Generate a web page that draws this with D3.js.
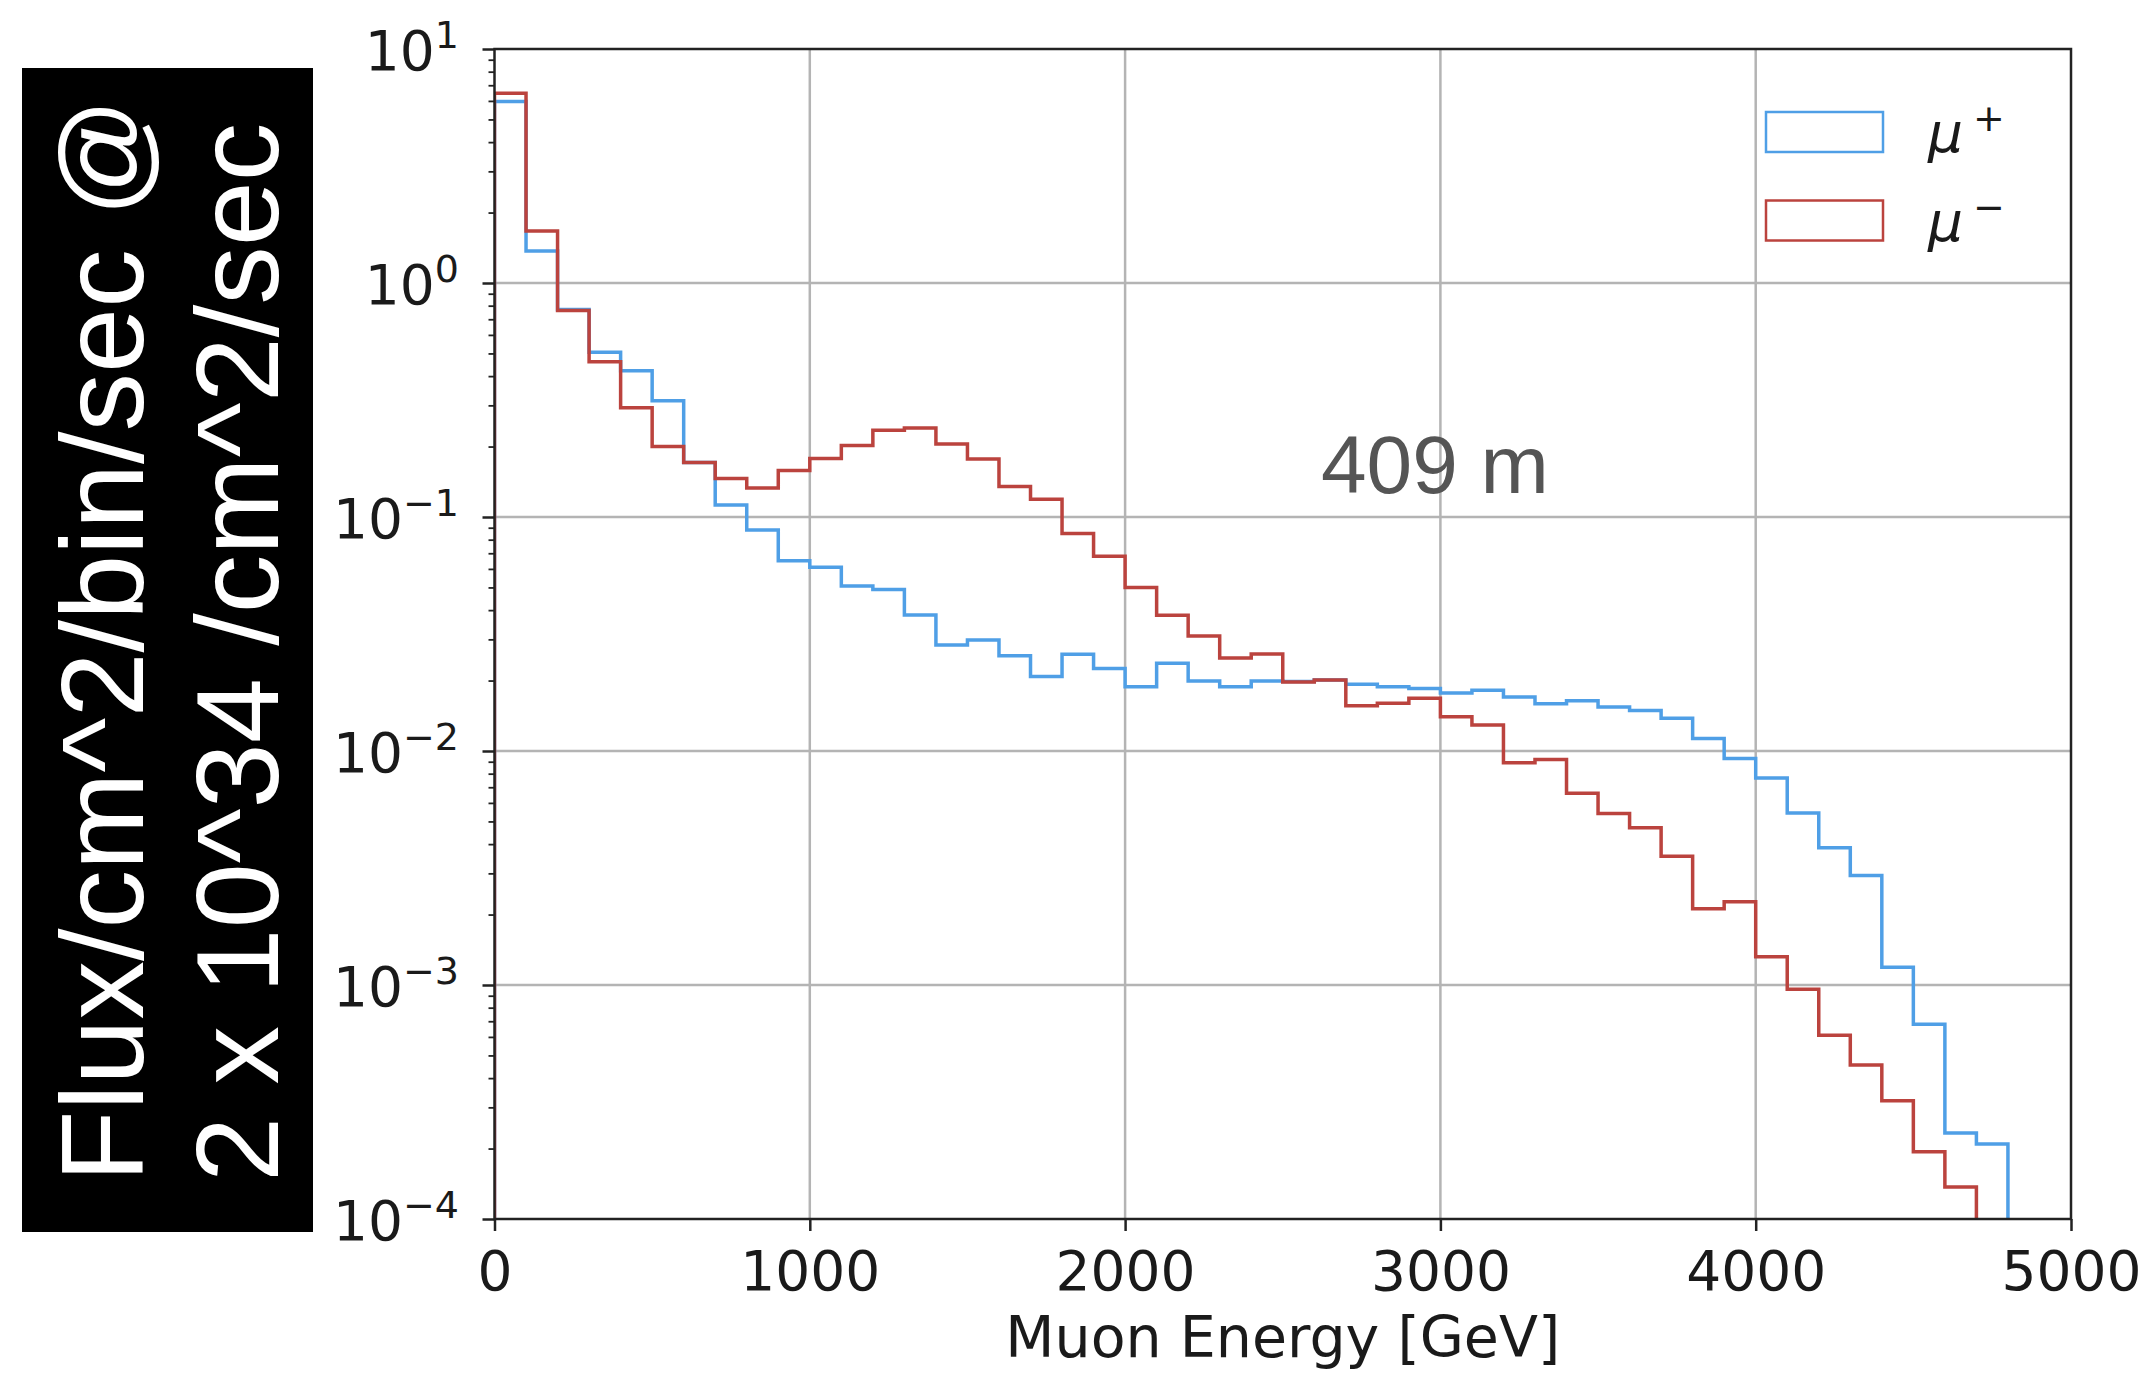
<!DOCTYPE html>
<html>
<head>
<meta charset="utf-8">
<script src="https://cdn.jsdelivr.net/npm/d3@7"></script>
<style>
  body { margin: 0; background: #fff; }
</style>
</head>
<body>
<div id="chart"></div>
<script>
// Bin edges: 100 GeV wide bins starting at 0
var binWidth = 100;

// mu+ flux per bin (0-4800 GeV)
var muPlus = [5.96, 1.37, 0.77, 0.506, 0.422, 0.314, 0.171, 0.1125, 0.088, 0.065,
    0.061, 0.0507, 0.049, 0.0381, 0.0284, 0.0298, 0.0255, 0.0208, 0.0259, 0.0225,
    0.0188, 0.0237, 0.0199, 0.0188, 0.0199, 0.0198, 0.0201, 0.0193, 0.0188, 0.0185,
    0.0177, 0.0182, 0.017, 0.0159, 0.0164, 0.0154, 0.0149, 0.0138, 0.0113, 0.0093,
    0.00767, 0.00543, 0.00386, 0.00294, 0.00119, 0.00068, 0.000233, 0.000209];

// mu- flux per bin (0-4700 GeV)
var muMinus = [6.47, 1.67, 0.762, 0.461, 0.293, 0.2, 0.171, 0.146, 0.133, 0.158,
    0.178, 0.202, 0.235, 0.24, 0.205, 0.177, 0.135, 0.119, 0.085, 0.068,
    0.05, 0.038, 0.031, 0.025, 0.026, 0.0197, 0.0201, 0.0156, 0.016, 0.0168,
    0.014, 0.0129, 0.0089, 0.0092, 0.0066, 0.0054, 0.0047, 0.00355, 0.00212, 0.00227,
    0.00132, 0.00096, 0.00061, 0.000455, 0.00032, 0.000194, 0.000137];

// Tick values
var xTicks = [0, 1000, 2000, 3000, 4000, 5000];
var yExponents = [1, 0, -1, -2, -3, -4];

// Legend entries
var legendLabels = [["\u03bc", "+"], ["\u03bc", "\u2212"]];

// Annotation and titles
var depthLabel = "409 m";
var xTitle = "Muon Energy [GeV]";
var yTitleLines = ["Flux/cm^2/bin/sec @", "2 x 10^34 /cm^2/sec"];

var blue = "#4f9fe6";
var red = "#bb433e";

// SVG dimensions
var svgWidth = 2150;
var svgHeight = 1378;

// Plot area
var plot = { left: 494.5, right: 2071, top: 49, bottom: 1219 };

var svg = d3.select("#chart")
    .append("svg")
    .attr("width", svgWidth)
    .attr("height", svgHeight)
    .style("display", "block");

// Scales
var xScale = d3.scaleLinear()
    .domain([0, 5000])
    .range([plot.left, plot.right]);

var yScale = d3.scaleLog()
    .domain([1e-4, 10])
    .range([plot.bottom, plot.top]);

// Black y title box
svg.append("rect")
    .attr("x", 22)
    .attr("y", 68)
    .attr("width", 291)
    .attr("height", 1164)
    .attr("fill", "#000");

var titleX = [143, 278];
yTitleLines.forEach(function(line, i) {
    svg.append("text")
        .attr("transform", `translate(${titleX[i]},1182) rotate(-90)`)
        .attr("font-family", "'Liberation Sans', Arial, sans-serif")
        .attr("font-size", 117)
        .attr("fill", "#fff")
        .text(line);
});

// Grid lines
var grid = svg.append("g");
grid.selectAll(".vgrid")
    .data(xTicks.slice(1, -1))
    .enter()
    .append("line")
    .attr("x1", d => xScale(d))
    .attr("x2", d => xScale(d))
    .attr("y1", plot.top)
    .attr("y2", plot.bottom)
    .attr("stroke", "#b4b4b4")
    .attr("stroke-width", 2.5);

grid.selectAll(".hgrid")
    .data(yExponents.slice(1, -1))
    .enter()
    .append("line")
    .attr("x1", plot.left)
    .attr("x2", plot.right)
    .attr("y1", d => yScale(Math.pow(10, d)))
    .attr("y2", d => yScale(Math.pow(10, d)))
    .attr("stroke", "#b4b4b4")
    .attr("stroke-width", 2.5);

// Clip path for histograms
svg.append("clipPath")
    .attr("id", "plotClip")
    .append("rect")
    .attr("x", plot.left)
    .attr("y", plot.top)
    .attr("width", plot.right - plot.left)
    .attr("height", plot.bottom - plot.top);

// Build step points for a histogram
function stepPoints(values) {
    var pts = [[0, 1e-4], [0, values[0]]];
    for (var i = 1; i < values.length; i++) {
        pts.push([i * binWidth, values[i]]);
    }
    pts.push([values.length * binWidth, values[values.length - 1]]);
    pts.push([values.length * binWidth, 1e-4]);
    return pts;
}

var stepLine = d3.line()
    .x(d => xScale(d[0]))
    .y(d => yScale(d[1]))
    .curve(d3.curveStepAfter);

var series = [
    { values: muPlus, color: blue },
    { values: muMinus, color: red }
];

svg.append("g")
    .attr("clip-path", "url(#plotClip)")
    .selectAll("path")
    .data(series)
    .enter()
    .append("path")
    .attr("d", d => stepLine(stepPoints(d.values)))
    .attr("fill", "none")
    .attr("stroke", d => d.color)
    .attr("stroke-width", 3.5)
    .attr("stroke-linejoin", "miter");

// X axis
var xAxis = d3.axisBottom(xScale)
    .tickValues(xTicks)
    .tickSize(12)
    .tickPadding(20)
    .tickFormat(d3.format("d"));

var xAxisG = svg.append("g")
    .attr("transform", `translate(0,${plot.bottom})`)
    .call(xAxis);
xAxisG.select(".domain").remove();
xAxisG.selectAll("line").attr("stroke", "#222").attr("stroke-width", 2.5);
xAxisG.selectAll("text")
    .attr("font-family", "'DejaVu Sans', sans-serif")
    .attr("font-size", 55)
    .attr("fill", "#1a1a1a");

// Y axis major ticks
var yMajor = yExponents.map(e => Math.pow(10, e));
var yAxisG = svg.append("g")
    .attr("transform", `translate(${plot.left},0)`)
    .call(d3.axisLeft(yScale).tickValues(yMajor).tickSize(12).tickFormat(""));
yAxisG.select(".domain").remove();
yAxisG.selectAll("line").attr("stroke", "#222").attr("stroke-width", 2.5);

// Y axis minor ticks
var yMinor = [];
yExponents.slice(1).forEach(function(e) {
    for (var m = 2; m <= 9; m++) yMinor.push(m * Math.pow(10, e));
});
var yMinorG = svg.append("g")
    .attr("transform", `translate(${plot.left},0)`)
    .call(d3.axisLeft(yScale).tickValues(yMinor).tickSize(6).tickFormat(""));
yMinorG.select(".domain").remove();
yMinorG.selectAll("line").attr("stroke", "#222").attr("stroke-width", 1.8);

// Y tick labels with superscripts
var yLabels = svg.append("g")
    .selectAll("text")
    .data(yExponents)
    .enter()
    .append("text")
    .attr("x", 459)
    .attr("y", d => yScale(Math.pow(10, d)) + 21)
    .attr("text-anchor", "end")
    .attr("font-family", "'DejaVu Sans', sans-serif")
    .attr("font-size", 55)
    .attr("fill", "#1a1a1a");
yLabels.append("tspan").text("10");
yLabels.append("tspan")
    .attr("dy", -22)
    .attr("font-size", 38)
    .text(d => d < 0 ? "\u2212" + Math.abs(d) : String(d));

// Spines
svg.append("rect")
    .attr("x", plot.left)
    .attr("y", plot.top)
    .attr("width", plot.right - plot.left)
    .attr("height", plot.bottom - plot.top)
    .attr("fill", "none")
    .attr("stroke", "#222")
    .attr("stroke-width", 2.5);

// X title
svg.append("text")
    .attr("x", (plot.left + plot.right) / 2)
    .attr("y", 1357)
    .attr("text-anchor", "middle")
    .attr("font-family", "'DejaVu Sans', sans-serif")
    .attr("font-size", 57)
    .attr("fill", "#1a1a1a")
    .text(xTitle);

// Depth annotation
svg.append("text")
    .attr("x", 1321)
    .attr("y", 493)
    .attr("font-family", "'Liberation Sans', Arial, sans-serif")
    .attr("font-size", 82)
    .attr("fill", "#555")
    .text(depthLabel);

// Legend
var legendColors = [blue, red];
var legend = svg.append("g")
    .selectAll("g")
    .data(legendLabels)
    .enter()
    .append("g")
    .attr("transform", (d, i) => `translate(1766,${112 + i * 88.5})`);

legend.append("rect")
    .attr("width", 117)
    .attr("height", 40)
    .attr("fill", "none")
    .attr("stroke", (d, i) => legendColors[i])
    .attr("stroke-width", 2.5);

var legendText = legend.append("text")
    .attr("x", 162)
    .attr("y", 40)
    .attr("font-family", "'DejaVu Sans', sans-serif")
    .attr("font-style", "italic")
    .attr("font-size", 55)
    .attr("fill", "#1a1a1a");
legendText.append("tspan").text(d => d[0]);
legendText.append("tspan")
    .attr("dx", 10)
    .attr("dy", -21)
    .attr("font-size", 38)
    .attr("font-style", "normal")
    .text(d => d[1]);
</script>
</body>
</html>
